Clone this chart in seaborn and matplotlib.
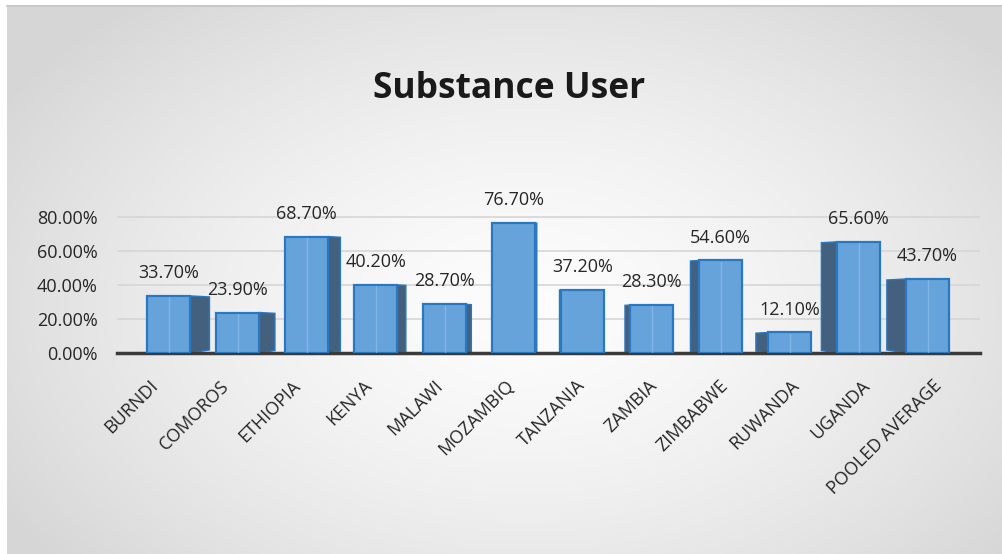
import numpy as np
import matplotlib
matplotlib.use("Agg")
import matplotlib.pyplot as plt
import seaborn as sns
from matplotlib.patches import Polygon
from matplotlib.lines import Line2D
import matplotlib.transforms as mtransforms

countries = ["BURNDI", "COMOROS", "ETHIOPIA", "KENYA", "MALAWI", "MOZAMBIQ",
             "TANZANIA", "ZAMBIA", "ZIMBABWE", "RUWANDA", "UGANDA", "POOLED AVERAGE"]
values = [33.7, 23.9, 68.7, 40.2, 28.7, 76.7, 37.2, 28.3, 54.6, 12.1, 65.6, 43.7]
yticks = [0, 20, 40, 60, 80]
title = "Substance User"

sns.set_style("white")
plt.rcParams["font.family"] = ["Open Sans", "DejaVu Sans"]

W, H = 1003, 554
fig = plt.figure(figsize=(W / 100, H / 100), dpi=100)
fig.patch.set_facecolor("white")

# background radial gradient
bg = fig.add_axes([7 / W, 0, 1 - 7 / W, 548 / H])
yy, xx = np.mgrid[0:548, 0:996]
cx, cy = 520, 300
r = np.sqrt(((xx - cx) / 560.0) ** 2 + ((yy - cy) / 360.0) ** 2)
g = np.clip(0.99 - 0.13 * r ** 1.5, 0.84, 0.99)
bg.imshow(np.dstack([g, g, g]), aspect="auto", extent=[0, 1, 0, 1], interpolation="bilinear")
bg.set_axis_off()
bg.set_zorder(-10)
fig.add_artist(Line2D([7 / W, 1], [548 / H, 548 / H], color="#c9c9c9", lw=1.5,
                      transform=fig.transFigure))

ax = fig.add_axes([117 / W, (H - 353) / H, 863 / W, 152.5 / H])
ax.patch.set_alpha(0)

front = "#67a3db"
edge = "#2a78c2"
side = "#43617f"

sns.barplot(x=countries, y=values, color=front, width=0.62, edgecolor=edge,
            linewidth=1.6, saturation=1, ax=ax, zorder=3)

ax.set_xlim(-0.75, 11.76)
ax.set_ylim(0, 90)

# pseudo-3D side faces
n = len(countries)
mid = (n - 1) / 2.0
for i, p in enumerate(ax.patches):
    x0 = p.get_x()
    w = p.get_width()
    h = p.get_height()
    d = 0.051 * (mid - i)  # category units
    k = abs(d) / 0.28
    xe = x0 + w if d > 0 else x0
    poly = Polygon([[xe, 0], [xe, h], [xe + d, h - 0.6 * k], [xe + d, 1.8 * k]],
                   closed=True, facecolor=side, edgecolor=edge, lw=1.0, zorder=2.5)
    ax.add_patch(poly)
    if abs(d) > 0.06:
        ax.plot([x0 + w / 2, x0 + w / 2], [0.8, h - 0.8], color="#8dbde8", lw=1.0,
                alpha=0.7, zorder=3.5)
    ax.annotate(f"{values[i]:.2f}%", (x0 + w / 2, h), xytext=(0, 10),
                textcoords="offset points", ha="center", va="bottom",
                fontsize=13, color="#262626", zorder=5)

ax.set_yticks(yticks)
ax.set_yticklabels([f"{v:.2f}%" for v in yticks], fontsize=13, color="#262626")
ax.yaxis.grid(True, color="#d6d6d6", lw=1.2)
ax.set_axisbelow(True)
for s in ["top", "right", "left"]:
    ax.spines[s].set_visible(False)
ax.spines["bottom"].set_color("#3a3a3a")
ax.spines["bottom"].set_linewidth(2.5)
ax.tick_params(axis="y", length=0, pad=14)
ax.tick_params(axis="x", length=0, pad=17)
ax.set_xlabel("")
ax.set_ylabel("")
ax.set_xticks(range(n))
ax.set_xticklabels(countries, rotation=45, ha="right", va="top", rotation_mode="anchor",
                   fontsize=13, color="#262626")
for i, lbl in enumerate(ax.get_xticklabels()):
    dx_px = -19.5 + 2.2 * i
    offset = mtransforms.ScaledTranslation(dx_px / 100, 0, fig.dpi_scale_trans)
    lbl.set_transform(lbl.get_transform() + offset)

fig.text(509.5 / W, 1 - 89.5 / H, title, ha="center", va="center", fontsize=25.5,
         weight="bold", color="#1a1a1a")

fig.savefig("out.png", dpi=100)
